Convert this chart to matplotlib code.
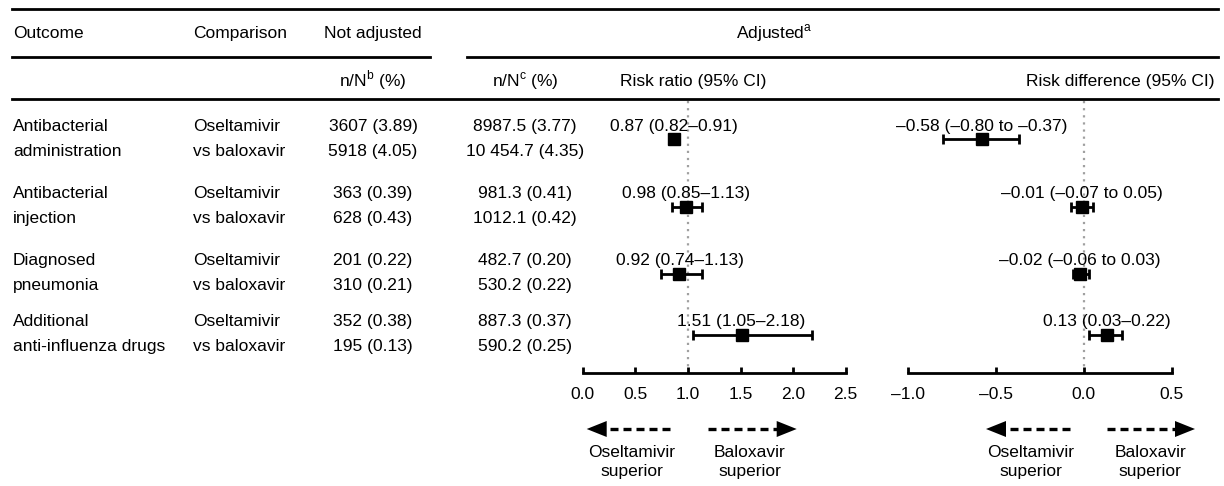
import matplotlib
matplotlib.use("Agg")
import matplotlib.pyplot as plt
from matplotlib.patches import Polygon

plt.rcParams['font.family'] = ['Liberation Sans', 'DejaVu Sans']
plt.rcParams['mathtext.fontset'] = 'custom'
plt.rcParams['mathtext.rm'] = 'Liberation Sans'
plt.rcParams['font.size'] = 12.5

# table content
outcomes = [("Antibacterial", "administration"),
            ("Antibacterial", "injection"),
            ("Diagnosed", "pneumonia"),
            ("Additional", "anti-influenza drugs")]
comparison = ("Oseltamivir", "vs baloxavir")

unadj_n_osel = [3607, 363, 201, 352]
unadj_p_osel = [3.89, 0.39, 0.22, 0.38]
unadj_n_balo = [5918, 628, 310, 195]
unadj_p_balo = [4.05, 0.43, 0.21, 0.13]

adj_n_osel = [8987.5, 981.3, 482.7, 887.3]
adj_p_osel = [3.77, 0.41, 0.20, 0.37]
adj_n_balo = [10454.7, 1012.1, 530.2, 590.2]
adj_p_balo = [4.35, 0.42, 0.22, 0.25]

rr = [0.87, 0.98, 0.92, 1.51]
rr_lo = [0.82, 0.85, 0.74, 1.05]
rr_hi = [0.91, 1.13, 1.13, 2.18]

rd = [-0.58, -0.01, -0.02, 0.13]
rd_lo = [-0.80, -0.07, -0.06, 0.03]
rd_hi = [-0.37, 0.05, 0.03, 0.22]

rr_ticks = [0.0, 0.5, 1.0, 1.5, 2.0, 2.5]
rd_ticks = [-1.0, -0.5, 0.0, 0.5]


def dash(s):
    return s.replace('-', '\u2013')


def fmt_count(n, p, dec):
    s = f"{n:,.{dec}f}"
    s = s.replace(',', ' ') if n >= 10000 else s.replace(',', '')
    return f"{s} ({p:.2f})"


def fmt_ci(e, lo, hi):
    sep = " to " if lo < 0 else "\u2013"
    return dash(f"{e:.2f} ({lo:.2f}{sep}{hi:.2f})")


W, H = 1224, 486
fig = plt.figure(figsize=(W / 100, H / 100), dpi=100)

# background axes in pixel units for the table
tab = fig.add_axes([0, 0, 1, 1])
tab.set_xlim(0, W)
tab.set_ylim(H, 0)
tab.axis('off')

rule = dict(color='black', lw=2)
tab.plot([12, 1218], [9, 9], **rule)
tab.plot([12, 430], [57, 57], **rule)
tab.plot([467, 1218], [57, 57], **rule)
tab.plot([12, 1218], [99, 99], **rule)

tab.text(13, 38, "Outcome", ha='left', va='baseline')
tab.text(193, 38, "Comparison", ha='left', va='baseline')
tab.text(373, 38, "Not adjusted", ha='center', va='baseline')
tab.text(774, 38, r"Adjusted$^{\mathrm{a}}$", ha='center', va='baseline')
tab.text(373, 86, r"n/N$^{\mathrm{b}}$ (%)", ha='center', va='baseline')
tab.text(525, 86, r"n/N$^{\mathrm{c}}$ (%)", ha='center', va='baseline')
tab.text(693, 86, "Risk ratio (95% CI)", ha='center', va='baseline')
tab.text(1215, 86, "Risk difference (95% CI)", ha='right', va='baseline')

base1 = [130.5, 198, 265, 326]
base2 = [b + 25 for b in base1]
mark_y = [b + 9 for b in base1]

for i in range(4):
    tab.text(13, base1[i], outcomes[i][0], va='baseline')
    tab.text(13, base2[i], outcomes[i][1], va='baseline')
    tab.text(193, base1[i], comparison[0], va='baseline')
    tab.text(193, base2[i], comparison[1], va='baseline')
    tab.text(373, base1[i], fmt_count(unadj_n_osel[i], unadj_p_osel[i], 0),
             ha='center', va='baseline')
    tab.text(373, base2[i], fmt_count(unadj_n_balo[i], unadj_p_balo[i], 0),
             ha='center', va='baseline')
    tab.text(525, base1[i], fmt_count(adj_n_osel[i], adj_p_osel[i], 1),
             ha='center', va='baseline')
    tab.text(525, base2[i], fmt_count(adj_n_balo[i], adj_p_balo[i], 1),
             ha='center', va='baseline')


def forest(left, right, lim, ticks, ref, est, lo, hi):
    ax = fig.add_axes([left / W, 0, (right - left) / W, 1])
    ax.set_xlim(*lim)
    ax.set_ylim(H, 0)
    ax.patch.set_visible(False)
    for s in ['top', 'left', 'right']:
        ax.spines[s].set_visible(False)
    ax.spines['bottom'].set_position(('data', 373.3))
    ax.spines['bottom'].set_bounds(lim[0], lim[1])
    ax.spines['bottom'].set_linewidth(2)
    ax.set_yticks([])
    ax.set_xticks(ticks)
    ax.set_xticklabels([dash(f"{t:.1f}") for t in ticks])
    ax.tick_params(axis='x', direction='in', length=4, width=2, pad=10,
                   labelsize=12.5)
    ax.plot([ref, ref], [101, 371], color='#a0a0a0', lw=1.6,
            linestyle=(0, (1, 2.2)), zorder=1)
    for i in range(len(est)):
        ax.errorbar(est[i], mark_y[i], xerr=[[est[i] - lo[i]], [hi[i] - est[i]]],
                    fmt='s', color='black', ms=8, capsize=3.3, elinewidth=2,
                    capthick=2, clip_on=False, zorder=3)
        ax.text(est[i], base1[i], fmt_ci(est[i], lo[i], hi[i]),
                ha='center', va='baseline')
    return ax


ax_rr = forest(582.7, 845.7, (0.0, 2.5), rr_ticks, 1.0, rr, rr_lo, rr_hi)
ax_rd = forest(907.7, 1171.7, (-1.0, 0.5), rd_ticks, 0.0, rd, rd_lo, rd_hi)


def arrow(x0, x1, y, head=20, half=8):
    # dashed shaft from x0 towards x1, filled head pointing at x1
    d = 1 if x1 > x0 else -1
    base = x1 - d * head
    tab.plot([x0, base], [y, y], color='black', lw=2.4,
             linestyle=(0, (2.4, 1.5)), solid_capstyle='butt')
    tab.add_patch(Polygon([[x1, y], [base, y - half], [base, y + half]],
                          closed=True, color='black', lw=0))


ay = 429
arrow(670, 586.7, ay)
arrow(708.3, 796.7, ay)
arrow(1070, 986, ay)
arrow(1106.7, 1195, ay)

for cx, word in [(632, "Oseltamivir"), (749.5, "Baloxavir"),
                 (1030.5, "Oseltamivir"), (1150, "Baloxavir")]:
    tab.text(cx, 457, word, ha='center', va='baseline')
    tab.text(cx, 475.5, "superior", ha='center', va='baseline')

fig.savefig("out.png", dpi=100)
